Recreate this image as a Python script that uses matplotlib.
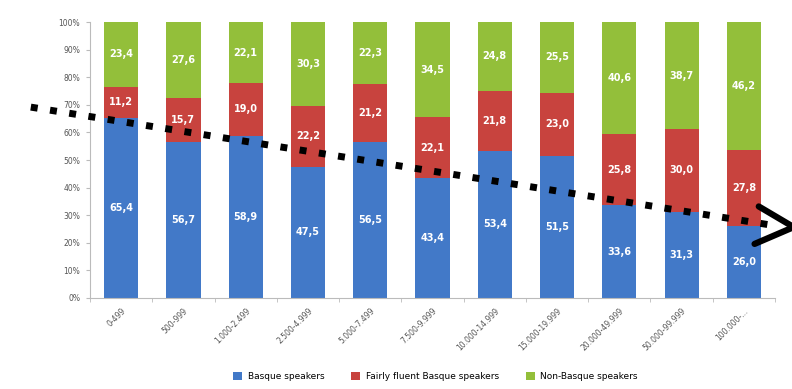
import numpy as np
import matplotlib.pyplot as plt

# municipality size bands and share of each language group (%)
categories = ["0-499", "500-999", "1.000-2.499", "2.500-4.999", "5.000-7.499",
              "7.500-9.999", "10.000-14.999", "15.000-19.999", "20.000-49.999",
              "50.000-99.999", "100.000-..."]
basque = [65.4, 56.7, 58.9, 47.5, 56.5, 43.4, 53.4, 51.5, 33.6, 31.3, 26.0]
fluent = [11.2, 15.7, 19.0, 22.2, 21.2, 22.1, 21.8, 23.0, 25.8, 30.0, 27.8]
non_basque = [23.4, 27.6, 22.1, 30.3, 22.3, 34.5, 24.8, 25.5, 40.6, 38.7, 46.2]
series_names = ["Basque speakers", "Fairly fluent Basque speakers", "Non-Basque speakers"]
colors = ["#4279C8", "#C8433E", "#93BF3A"]

# trend arrow drawn over the bars (category index, %)
trend_x = [-1.45, 10.5]
trend_y = [69.2, 26.2]

fig = plt.figure(figsize=(7.92, 3.89), dpi=100)
ax = fig.add_axes([0.1136, 0.234, 0.865, 0.709])

x = np.arange(len(categories))
bottom = np.zeros(len(categories))
for vals, name, col in zip([basque, fluent, non_basque], series_names, colors):
    vals = np.array(vals)
    ax.bar(x, vals, width=0.55, bottom=bottom, color=col, label=name, zorder=2)
    for xi, b, v in zip(x, bottom, vals):
        ax.text(xi, b + v / 2, f"{v:.1f}".replace(".", ","), ha="center", va="center",
                color="white", fontsize=7, fontweight="bold", zorder=3)
    bottom += vals

ax.set_xlim(-0.5, len(categories) - 0.5)
ax.set_ylim(0, 100)
ax.set_yticks(np.arange(0, 101, 10))
ax.set_yticklabels([f"{t}%" for t in range(0, 101, 10)], fontsize=5.5, color="#555555")
ax.set_xticks(x)
ax.set_xticklabels(categories, rotation=45, ha="right", rotation_mode="anchor",
                   fontsize=5.5, color="#555555")
ax.set_xticks(np.arange(-0.5, len(categories)), minor=True)
ax.tick_params(axis="x", which="major", length=0, pad=6)
ax.tick_params(axis="x", which="minor", length=3, color="#BBBBBB")
ax.tick_params(axis="y", length=3, color="#BBBBBB", pad=4)
for side in ["top", "right"]:
    ax.spines[side].set_visible(False)
ax.spines["left"].set_color("#BBBBBB")
ax.spines["bottom"].set_color("#BBBBBB")

# dotted trend line with an open arrow head
ax.plot(trend_x, trend_y, color="black", linewidth=5, linestyle=(0, (1, 1.8)),
        solid_capstyle="butt", dash_capstyle="butt", clip_on=False, zorder=4)
ax.annotate("", xy=(10.8, 25.7), xytext=(10.2, 33.7), annotation_clip=False,
            arrowprops=dict(arrowstyle="-", color="black", lw=4.5), zorder=4)
ax.annotate("", xy=(10.8, 25.7), xytext=(10.13, 19.2), annotation_clip=False,
            arrowprops=dict(arrowstyle="-", color="black", lw=4.5), zorder=4)

fig.legend(loc="lower center", bbox_to_anchor=(0.55, 0.0), ncol=3, frameon=False,
           fontsize=6.5, handlelength=1, handleheight=1, columnspacing=3,
           handletextpad=0.6)

fig.savefig("out.png", dpi=100)
